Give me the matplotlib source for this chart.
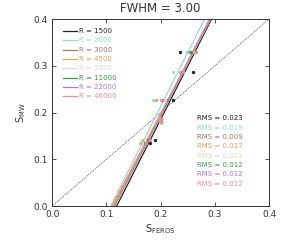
import matplotlib
matplotlib.use("Agg")
import matplotlib.pyplot as plt
import numpy as np

resolutions = ["1500", "2000", "3000", "4500", "5500", "11000", "22000", "46000"]
colors = ["#222222", "#8fdcd4", "#a07868", "#f0a050", "#e6d8cc", "#3a9a48", "#a878e8", "#f48a8a"]
rms = ["0.023", "0.019", "0.009", "0.017", "0.011", "0.012", "0.012", "0.012"]

s_mw = [0.329, 0.287, 0.226, 0.186, 0.179, 0.141, 0.135]
s_feros = [
    [0.236, 0.2605, 0.222, 0.200, 0.200, 0.190, 0.181],
    [0.2495, 0.2225, 0.1856, 0.199, 0.199, 0.166, 0.162],
    [0.254, 0.240, 0.212, 0.200, 0.200, 0.175, 0.170],
    [0.265, 0.236, 0.1917, 0.200, 0.200, 0.170, 0.166],
    [0.262, 0.242, 0.208, 0.200, 0.200, 0.172, 0.168],
    [0.256, 0.239, 0.203, 0.200, 0.200, 0.176, 0.172],
    [0.263, 0.240, 0.202, 0.200, 0.200, 0.178, 0.173],
    [0.264, 0.241, 0.201, 0.200, 0.200, 0.180, 0.174],
]
# fitted lines: x at S_MW = 0 and x at S_MW = 0.4
fit_y = [0.0, 0.4]
fit_x = [
    [0.119, 0.294],
    [0.108, 0.281],
    [0.115, 0.291],
    [0.110, 0.292],
    [0.114, 0.292],
    [0.114, 0.291],
    [0.113, 0.291],
    [0.113, 0.290],
]
ticks = [0.0, 0.1, 0.2, 0.3, 0.4]

fig = plt.figure(figsize=(2.85, 2.45), dpi=100)
ax = fig.add_axes([0.183, 0.159, 0.761, 0.763])
ax.set_xlim(0, 0.4)
ax.set_ylim(0, 0.4)

ax.plot([0, 0.4], [0, 0.4], color="#333333", lw=0.5, ls=(0, (1.5, 1.5)))

for i in range(len(resolutions)):
    ax.plot(fit_x[i], fit_y, color=colors[i], lw=0.9)
for i in range(len(resolutions)):
    ax.plot(s_feros[i], s_mw, "o", color=colors[i], ms=2.4, mew=0)

for i, r in enumerate(resolutions):
    y = 0.937 - 0.0499 * i
    ax.plot([0.051, 0.115], [y, y], transform=ax.transAxes, color=colors[i], lw=0.9)
    ax.text(0.124, y, "R = " + r, transform=ax.transAxes, color=colors[i],
            fontsize=5, va="center", ha="left")
    ax.text(0.667, 0.469 - 0.0499 * i, "RMS = " + rms[i], transform=ax.transAxes,
            color=colors[i], fontsize=5, va="center", ha="left")

ax.set_xticks(ticks)
ax.set_yticks(ticks)
ax.set_xticklabels(["%.1f" % t for t in ticks])
ax.set_yticklabels(["%.1f" % t for t in ticks])
ax.tick_params(direction="in", top=True, right=True, length=3, width=0.6,
               labelsize=6.5, colors="#333333", pad=3)
for sp in ax.spines.values():
    sp.set_linewidth(0.7)
    sp.set_color("#333333")

ax.set_title("FWHM = 3.00", fontsize=8.5, color="#333333", pad=5)
ax.set_xlabel(r"S$_{\mathrm{FEROS}}$", fontsize=7, color="#333333", labelpad=2)
ax.set_ylabel(r"S$_{\mathrm{MW}}$", fontsize=7, color="#333333", labelpad=4)

fig.savefig("out.png", dpi=100)
